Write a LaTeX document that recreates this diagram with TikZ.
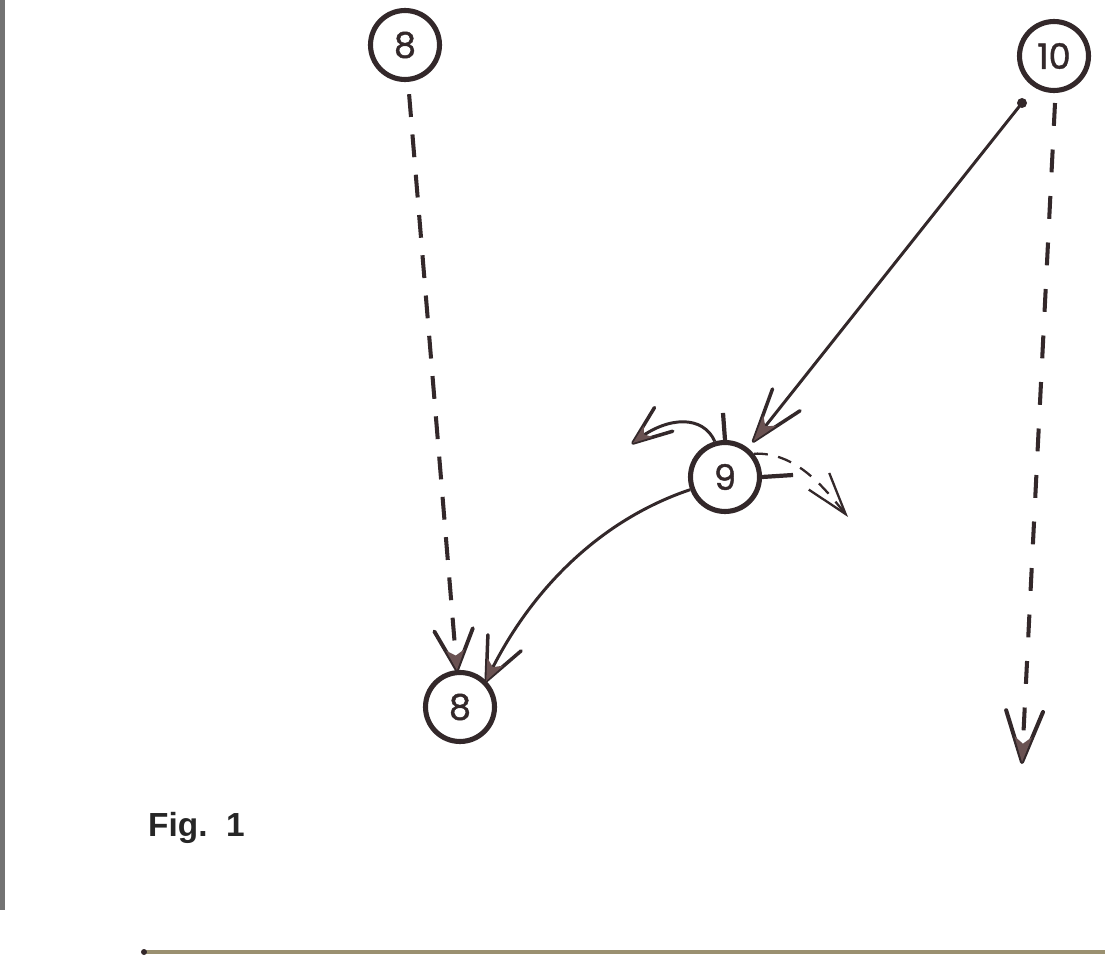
\documentclass[tikz,border=0pt]{standalone}
\usepackage{fontspec}
\setmainfont{Liberation Sans}
\newfontfamily\numfont[FakeBold=1.2]{Poppins}
\usetikzlibrary{arrows.meta}
\definecolor{ink}{HTML}{33282A}
\definecolor{tipfill}{HTML}{6A5252}
\definecolor{rule}{HTML}{9A9070}
\pgfdeclarearrow{
  name = Dart,
  defaults = {length = 28pt, width = 20pt, line width = 2pt},
  setup code = {
    \pgfarrowssettipend{0pt}
    \pgfarrowssetlineend{-3pt}
    \pgfarrowssetvisualbackend{-\pgfarrowlength}
    \pgfarrowssetbackend{-\pgfarrowlength}
    \pgfarrowshullpoint{0pt}{0pt}
    \pgfarrowshullpoint{-\pgfarrowlength}{.5\pgfarrowwidth}
    \pgfarrowshullpoint{-\pgfarrowlength}{-.5\pgfarrowwidth}
    \pgfarrowssavethe\pgfarrowlength
    \pgfarrowssavethe\pgfarrowwidth
    \pgfarrowssavethe\pgfarrowlinewidth
  },
  drawing code = {
    \pgfsetdash{}{0pt}
    \pgfsetlinewidth{\pgfarrowlinewidth}
    \pgfsetroundcap
    \pgfsetroundjoin
    \pgfpathmoveto{\pgfpoint{-\pgfarrowlength}{.5\pgfarrowwidth}}
    \pgfpathlineto{\pgfpointorigin}
    \pgfpathlineto{\pgfpoint{-\pgfarrowlength}{-.5\pgfarrowwidth}}
    \pgfusepathqstroke
    \pgfsetfillcolor{tipfill}
    \pgfpathmoveto{\pgfpointorigin}
    \pgfpathlineto{\pgfpoint{-.5\pgfarrowlength}{.24\pgfarrowwidth}}
    \pgfpathlineto{\pgfpoint{-.36\pgfarrowlength}{0pt}}
    \pgfpathlineto{\pgfpoint{-.5\pgfarrowlength}{-.24\pgfarrowwidth}}
    \pgfpathclose
    \pgfusepathqfill
  },
  parameters = {\the\pgfarrowlength,\the\pgfarrowwidth,\the\pgfarrowlinewidth},
}
\begin{document}
\begin{tikzpicture}[x=0.02cm,y=-0.02cm,
  player/.style={circle, draw=ink, line width=2.9pt, inner sep=0pt,
    minimum size=1.38cm, font=\numfont\fontsize{20}{20}\selectfont, text=ink},
  run/.style={draw=ink, line width=1.7pt},
  dashrun/.style={draw=ink, line width=2.3pt, dash pattern=on 13pt off 10pt}
]
\useasboundingbox (0,0) rectangle (1105,959);
% scan edge and bottom rule
\fill[black!55] (0,0) rectangle (5,910);
\draw[rule, line width=1.8pt] (142,952) -- (1105,952);
\fill[ink] (144,952) circle (3);

% players
\node[player] (e8top) at (405,45) {8};
\node[player] (ten) at (1054,56) {10};
\node[player] (nine) at (725,477) {9};
\node[player] (e8bot) at (460,707) {8};

\coordinate (d10) at (1022,103);
\coordinate (endten) at (1022,762);
\coordinate (leftend) at (633,443);
\coordinate (rightend) at (848,517);

% dashed run 8 -> 8
\draw[dashrun, -{Dart[length=23pt, width=22pt, line width=2.2pt]}, shorten <=7pt] (e8top) -- (e8bot);
% pass 10 -> 9
\draw[run, -{Dart[length=30pt, width=20pt]}, shorten >=5pt] (d10) -- (nine);
\fill[ink] (d10) circle (5);
% dashed run of 10
\draw[dashrun, dash pattern=on 13pt off 13.5pt, -{Dart[length=29pt, width=21pt, line width=2.3pt]}]
  (1055,103) -- (endten);
% pass 9 -> 8
\draw[run, -{Dart[length=24pt, width=21pt]}] (nine.200) .. controls (600,520) and (530,590) .. (e8bot.45);
% curved run left of 9
\draw[run, -{Dart[length=22pt, width=17pt]}]
  (nine.106) .. controls (703,415) and (668,416) .. (leftend);
% dashed curved run right of 9
\draw[draw=ink, line width=1.3pt, dash pattern=on 8pt off 6pt,
  -{Straight Barb[length=24pt, width=15pt, line width=1.3pt]}]
  (nine.39) .. controls (795,452) and (822,485) .. (rightend);
% ticks
\draw[ink, line width=2.4pt] (nine.north) -- ++(-2,-27);
\draw[ink, line width=2.4pt] (nine.east) -- ++(31,-2);

\node[anchor=west, font=\bfseries\fontsize{19}{19}\selectfont, text=black!85] (fig) at (142,828) {Fig.\ \ 1};
\end{tikzpicture}
\end{document}
